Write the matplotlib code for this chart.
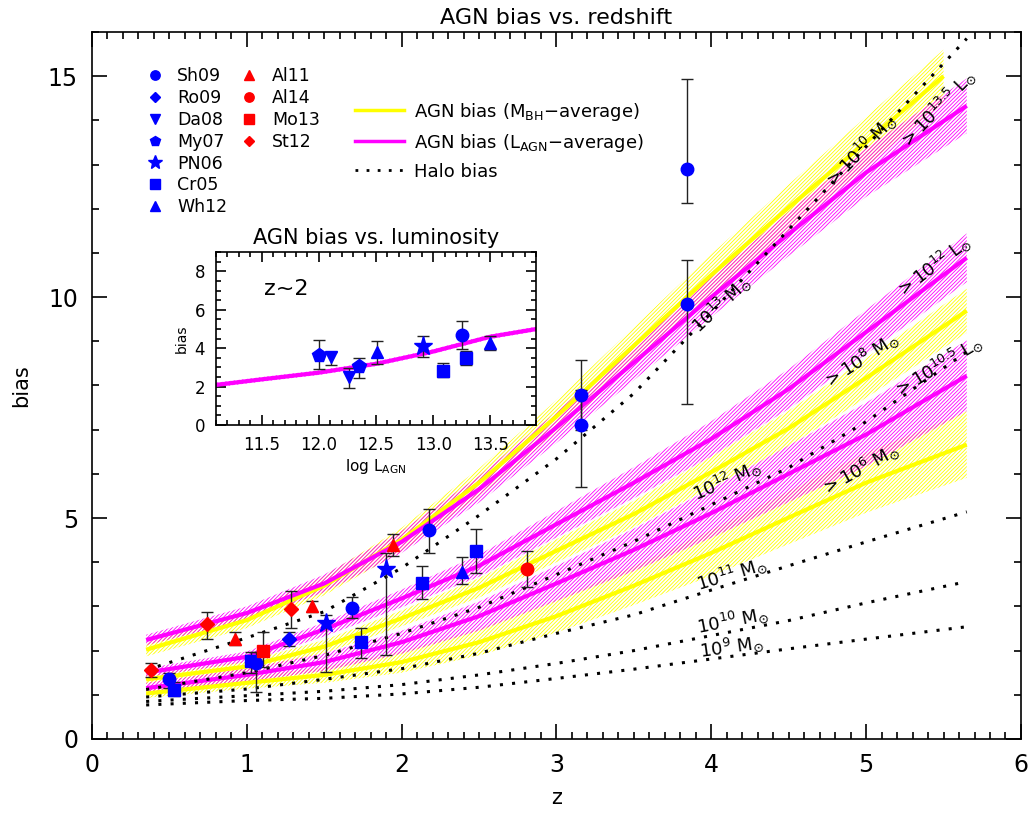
import numpy as np
import matplotlib
matplotlib.use("Agg")
from matplotlib import pyplot as plt
from matplotlib.lines import Line2D

plt.rcParams['font.family'] = ['DejaVu Sans']
plt.rcParams['hatch.linewidth'] = 0.6

# redshift grid of the model curves
z_grid = [0.35, 1.0, 1.5, 2.0, 2.5, 3.0, 3.5, 4.0, 4.5, 5.0, 5.65]
z_grid_top = [0.35, 1.0, 1.5, 2.0, 2.5, 3.0, 3.5, 4.0, 4.5, 5.0, 5.5]

# halo bias (dotted)
halo_13 = [1.56, 2.29, 2.88, 3.87, 5.06, 6.34, 7.82, 9.65, 11.53, 13.41, 15.85]
halo_12 = [1.12, 1.50, 1.89, 2.39, 2.98, 3.72, 4.47, 5.30, 6.14, 7.18, 8.76]
halo_11 = [0.95, 1.13, 1.35, 1.59, 1.94, 2.39, 2.81, 3.37, 3.92, 4.46, 5.14]
halo_10 = [0.85, 0.98, 1.08, 1.23, 1.45, 1.71, 2.00, 2.34, 2.68, 3.08, 3.56]
halo_9 = [0.77, 0.87, 0.92, 1.02, 1.17, 1.37, 1.58, 1.81, 2.04, 2.26, 2.54]

# AGN bias, M_BH average (yellow) and L_AGN average (magenta), centre and half width
mbh_10 = [2.02, 2.69, 3.47, 4.51, 5.80, 7.30, 8.90, 10.50, 12.03, 13.51, 15.00]
mbh_10_w = [0.15, 0.18, 0.22, 0.27, 0.32, 0.37, 0.42, 0.47, 0.52, 0.57, 0.60]
mbh_8 = [1.35, 1.64, 2.09, 2.73, 3.42, 4.26, 5.09, 6.04, 7.03, 8.17, 9.69]
mbh_8_w = [0.10, 0.12, 0.15, 0.18, 0.22, 0.26, 0.30, 0.35, 0.40, 0.45, 0.50]
mbh_6 = [1.03, 1.27, 1.45, 1.74, 2.19, 2.78, 3.47, 4.21, 5.01, 5.80, 6.66]
mbh_6_w = [0.10, 0.13, 0.18, 0.24, 0.30, 0.37, 0.44, 0.52, 0.60, 0.68, 0.75]
lagn_135 = [2.24, 2.85, 3.52, 4.46, 5.65, 7.05, 8.52, 10.00, 11.43, 12.82, 14.33]
lagn_135_w = [0.12, 0.15, 0.20, 0.25, 0.30, 0.35, 0.40, 0.45, 0.50, 0.55, 0.62]
lagn_12 = [1.50, 1.86, 2.48, 3.18, 3.92, 4.86, 5.80, 6.79, 7.92, 9.21, 10.89]
lagn_12_w = [0.10, 0.12, 0.16, 0.20, 0.25, 0.30, 0.35, 0.40, 0.45, 0.50, 0.55]
lagn_105 = [1.15, 1.45, 1.74, 2.19, 2.78, 3.52, 4.28, 5.11, 6.00, 6.89, 8.22]
lagn_105_w = [0.12, 0.15, 0.20, 0.26, 0.33, 0.40, 0.48, 0.56, 0.64, 0.72, 0.80]

# observations: z, bias, lower end, upper end of error bar
obs = {
    'Sh09': dict(z=[0.50, 1.06, 1.68, 2.18, 3.16, 3.16, 3.84, 3.84],
                 b=[1.35, 1.72, 2.96, 4.72, 7.79, 7.11, 12.89, 9.85],
                 lo=[1.16, 1.07, 2.73, 4.22, 6.99, 5.71, 12.13, 7.59],
                 hi=[1.50, 1.96, 3.22, 5.20, 8.58, 7.90, 14.94, 10.85]),
    'Ro09': dict(z=[1.273], b=[2.26], lo=[2.11], hi=[2.41]),
    'PN06': dict(z=[1.51, 1.90], b=[2.62, 3.84], lo=[1.51, 1.90], hi=[2.81, 4.21]),
    'Cr05': dict(z=[0.53, 1.03, 1.74, 2.134, 2.48], b=[1.11, 1.77, 2.19, 3.53, 4.26],
                 lo=[0.97, 1.50, 1.84, 3.16, 3.75], hi=[1.30, 1.96, 2.52, 3.92, 4.75]),
    'Wh12': dict(z=[2.39], b=[3.79], lo=[3.50], hi=[4.11]),
    'Al11': dict(z=[0.924, 1.42, 1.946], b=[2.26, 3.00, 4.39],
                 lo=[2.13, 2.88, 4.13], hi=[2.42, 3.13, 4.64]),
    'Al14': dict(z=[2.81], b=[3.84], lo=[3.44], hi=[4.26]),
    'Mo13': dict(z=[1.107], b=[1.99], lo=[1.64], hi=[2.43]),
    'St12': dict(z=[0.379, 0.74, 1.286], b=[1.55, 2.60, 2.94],
                 lo=[1.41, 2.27, 2.51], hi=[1.71, 2.88, 3.36]),
}

# inset: bias vs log L at z~2
inset_obs = {
    'My07': dict(x=[12.0, 12.35], b=[3.66, 3.05], lo=[2.93, 2.45], hi=[4.45, 3.49]),
    'Da08': dict(x=[12.11, 12.26], b=[3.57, 2.52], lo=[3.12, 1.95], hi=[3.83, 2.96]),
    'Wh12': dict(x=[12.51, 13.5], b=[3.83, 4.27], lo=[3.17, 3.89], hi=[4.36, 4.66]),
    'PN06': dict(x=[12.91], b=[4.10], lo=[3.57], hi=[4.62]),
    'Cr05': dict(x=[13.09, 13.29], b=[2.84, 3.49], lo=[2.52, 3.14], hi=[3.22, 3.87]),
    'Sh09': dict(x=[13.25], b=[4.67], lo=[3.96], hi=[5.41]),
}
inset_logl = [11.1, 11.5, 12.0, 12.5, 13.0, 13.5, 13.9]
inset_bias = [2.09, 2.38, 2.73, 3.19, 3.83, 4.60, 5.00]

style = {
    'Sh09': ('o', 'blue', 9), 'Ro09': ('D', 'blue', 7), 'Da08': ('v', 'blue', 9),
    'My07': ('p', 'blue', 10), 'PN06': ('*', 'blue', 14), 'Cr05': ('s', 'blue', 9),
    'Wh12': ('^', 'blue', 9), 'Al11': ('^', 'red', 9), 'Al14': ('o', 'red', 9),
    'Mo13': ('s', 'red', 9), 'St12': ('D', 'red', 7),
}

YEL = '#ffff00'
MAG = '#ff00ff'
dots = (0, (1, 3))

fig = plt.figure(figsize=(10.32, 8.19), dpi=100)
ax = fig.add_axes([0.0891, 0.0977, 0.9002, 0.8633])


def band(a, z, c, w, color):
    c = np.array(c)
    w = np.array(w)
    a.fill_between(z, c - w, c + w, facecolor='none', edgecolor=color,
                   hatch='/////////', linewidth=0, zorder=1)
    a.plot(z, c, color=color, lw=3, zorder=2, solid_capstyle='butt')


band(ax, z_grid_top, mbh_10, mbh_10_w, YEL)
band(ax, z_grid, mbh_8, mbh_8_w, YEL)
band(ax, z_grid, mbh_6, mbh_6_w, YEL)
band(ax, z_grid, lagn_135, lagn_135_w, MAG)
band(ax, z_grid, lagn_12, lagn_12_w, MAG)
band(ax, z_grid, lagn_105, lagn_105_w, MAG)

for h in [halo_13, halo_12, halo_11, halo_10, halo_9]:
    ax.plot(z_grid, h, color='black', lw=2.2, linestyle=dots, zorder=3)

for name, d in obs.items():
    m, col, ms = style[name]
    b = np.array(d['b'])
    err = [b - np.array(d['lo']), np.array(d['hi']) - b]
    ax.errorbar(d['z'], b, yerr=err, fmt='none', ecolor='#222222', elinewidth=1,
                capsize=4.5, capthick=1, zorder=4)
    ax.plot(d['z'], b, linestyle='none', marker=m, color=col, ms=ms, mec=col, zorder=5)

# curve labels
labels = [
    (4.96, 13.30, r'$>10^{10}\ \mathrm{M}_{\odot}$', 46),
    (5.46, 14.27, r'$>10^{13.5}\ \mathrm{L}_{\odot}$', 46),
    (4.06, 9.85, r'$10^{13}\ \mathrm{M}_{\odot}$', 43),
    (5.43, 10.70, r'$>10^{12}\ \mathrm{L}_{\odot}$', 37),
    (4.96, 8.58, r'$>10^{8}\ \mathrm{M}_{\odot}$', 33),
    (5.46, 8.43, r'$>10^{10.5}\ \mathrm{L}_{\odot}$', 31),
    (4.96, 6.10, r'$>10^{6}\ \mathrm{M}_{\odot}$', 29),
    (4.10, 5.87, r'$10^{12}\ \mathrm{M}_{\odot}$', 24),
    (4.13, 3.75, r'$10^{11}\ \mathrm{M}_{\odot}$', 17),
    (4.14, 2.69, r'$10^{10}\ \mathrm{M}_{\odot}$', 11),
    (4.13, 2.09, r'$10^{9}\ \mathrm{M}_{\odot}$', 8),
]
for x, y, s, r in labels:
    ax.text(x, y, s, rotation=r, ha='center', va='center', fontsize=13, zorder=6)

ax.set_xlim(0, 6)
ax.set_ylim(0, 16)
ax.set_xticks([0, 1, 2, 3, 4, 5, 6])
ax.set_yticks([0, 5, 10, 15])
ax.set_xticks(np.arange(0, 6.01, 0.1), minor=True)
ax.set_yticks(np.arange(0, 16.01, 1), minor=True)
ax.tick_params(which='both', direction='in', top=True, right=True, width=1.2)
ax.tick_params(which='major', length=11, labelsize=17, pad=10)
ax.tick_params(which='minor', length=5)
for s in ax.spines.values():
    s.set_linewidth(1.2)
ax.set_title('AGN bias vs. redshift', fontsize=16, pad=6)
ax.set_xlabel('z', fontsize=15, labelpad=8)
ax.set_ylabel('bias', fontsize=15, labelpad=12)

# legends
blue_names = ['Sh09', 'Ro09', 'Da08', 'My07', 'PN06', 'Cr05', 'Wh12']
red_names = ['Al11', 'Al14', 'Mo13', 'St12']


def handles(names):
    out = []
    for n in names:
        m, col, ms = style[n]
        out.append(Line2D([], [], linestyle='none', marker=m, color=col,
                          ms=ms * 0.75, label=n))
    return out


leg_kw = dict(frameon=False, fontsize=12.5, handlelength=1.0, handletextpad=0.8,
              labelspacing=0.22, borderpad=0, borderaxespad=0, loc='upper left')
l1 = ax.legend(handles=handles(blue_names), bbox_to_anchor=(0.058, 0.95), **leg_kw)
ax.add_artist(l1)
l2 = ax.legend(handles=handles(red_names), bbox_to_anchor=(0.16, 0.95), **leg_kw)
ax.add_artist(l2)
line_handles = [
    Line2D([], [], color=YEL, lw=2.5, label=r'AGN bias (M$_{\mathrm{BH}}$$-$average)'),
    Line2D([], [], color=MAG, lw=2.5, label=r'AGN bias (L$_{\mathrm{AGN}}$$-$average)'),
    Line2D([], [], color='black', lw=2, linestyle=dots, label='Halo bias'),
]
ax.legend(handles=line_handles, frameon=False, fontsize=13, handlelength=2.7,
          handletextpad=0.6, labelspacing=0.5, borderpad=0, borderaxespad=0,
          loc='upper left', bbox_to_anchor=(0.283, 0.903))

# inset
ins = fig.add_axes([0.2093, 0.481, 0.3101, 0.211])
ins.fill_between(inset_logl, np.array(inset_bias) - 0.12, np.array(inset_bias) + 0.12,
                 facecolor='none', edgecolor=MAG, hatch='/////////', linewidth=0, zorder=1)
ins.plot(inset_logl, inset_bias, color=MAG, lw=3, zorder=2)
for name, d in inset_obs.items():
    m, col, ms = style[name]
    b = np.array(d['b'])
    err = [b - np.array(d['lo']), np.array(d['hi']) - b]
    ins.errorbar(d['x'], b, yerr=err, fmt='none', ecolor='#222222', elinewidth=1,
                 capsize=4.5, capthick=1, zorder=4)
    ins.plot(d['x'], b, linestyle='none', marker=m, color=col, ms=ms, zorder=5)
ins.text(0.15, 0.79, 'z~2', transform=ins.transAxes, fontsize=16, va='center')
ins.set_xlim(11.1, 13.9)
ins.set_ylim(0, 9)
ins.set_xticks([11.5, 12.0, 12.5, 13.0, 13.5])
ins.set_xticklabels(['11.5', '12.0', '12.5', '13.0', '13.5'])
ins.set_yticks([0, 2, 4, 6, 8])
ins.set_xticks(np.arange(11.1, 13.91, 0.1), minor=True)
ins.set_yticks(np.arange(0, 9.01, 0.5), minor=True)
ins.tick_params(which='both', direction='in', top=True, right=True, width=1.2)
ins.tick_params(which='major', length=7, labelsize=12, pad=8)
ins.tick_params(which='minor', length=3.5)
for s in ins.spines.values():
    s.set_linewidth(1.2)
ins.set_title('AGN bias vs. luminosity', fontsize=15, pad=6)
ins.set_xlabel(r'log L$_{\mathrm{AGN}}$', fontsize=11, labelpad=2)
ins.set_ylabel('bias', fontsize=10, labelpad=4)

fig.savefig('out.png', dpi=100)
